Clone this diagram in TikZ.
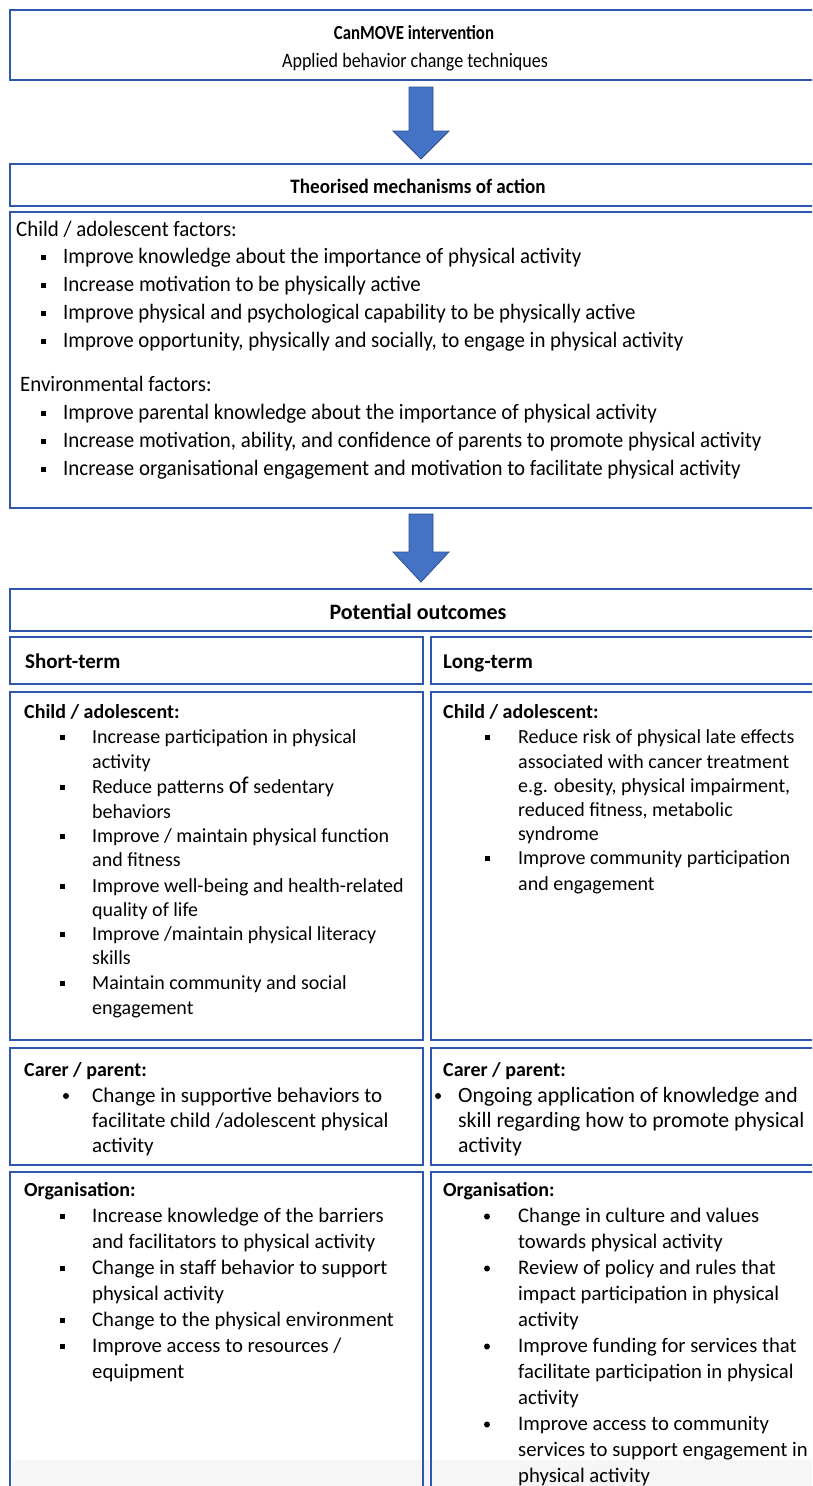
\documentclass[tikz,border=0pt]{standalone}
\usepackage{fontspec}
\setmainfont{Carlito}
\newfontfamily\mechfont[FakeStretch=0.95]{Carlito}
\newfontfamily\topfont[FakeStretch=0.84]{Carlito}
\newfontfamily\subfont[FakeStretch=0.88]{Carlito}
\newfontfamily\secfont[FakeStretch=0.93]{Carlito}
\usetikzlibrary{calc}
\definecolor{boxblue}{RGB}{47,87,178}
\definecolor{arrowblue}{RGB}{68,114,196}
\definecolor{arrowdark}{RGB}{47,82,143}
\definecolor{bandgray}{RGB}{246,246,246}
\tikzset{
  frame/.style={draw=boxblue, line width=2.2pt, inner sep=0pt, outer sep=0pt, anchor=north west},
  hd/.style={font=\secfont\fontsize{20.5}{24}\selectfont\bfseries, inner sep=0pt, anchor=base},
  tophd/.style={font=\topfont\fontsize{20}{24}\selectfont\bfseries, inner sep=0pt, anchor=base},
  sub/.style={font=\subfont\fontsize{20.5}{24}\selectfont, inner sep=0pt, anchor=base},
  lbl/.style={font=\fontsize{20}{24}\selectfont\bfseries, inner sep=0pt, anchor=base west},
  lblr/.style={font=\mechfont\fontsize{22}{24}\selectfont, inner sep=0pt, anchor=base west},
  txt/.style={font=\fontsize{20}{24}\selectfont, inner sep=0pt, anchor=base west},
  ctxt/.style={font=\fontsize{21}{24}\selectfont, inner sep=0pt, anchor=base west},
  otxt/.style={font=\fontsize{20.7}{24}\selectfont, inner sep=0pt, anchor=base west},
  mtxt/.style={font=\mechfont\fontsize{22}{24}\selectfont, inner sep=0pt, anchor=base west},
  sq/.style={fill=black, minimum size=5pt, inner sep=0pt, outer sep=0pt},
  rdot/.style={circle, fill=black, minimum size=6pt, inner sep=0pt, outer sep=0pt},
  barrow/.style={fill=arrowblue, draw=arrowdark, line width=0.8pt, line join=miter}
}
\begin{document}
\begin{tikzpicture}[x=1pt,y=-1pt]
\useasboundingbox (0,0) rectangle (812,1486);
\clip (0,0) rectangle (812,1486);
\fill[white] (0,0) rectangle (812,1486);
\fill[bandgray] (12,1460) rectangle (812,1486);

% boxes
\node[frame, minimum width=822pt, minimum height=70pt] (b1) at (10,10) {};
\node[frame, minimum width=822pt, minimum height=42pt] (b2) at (10,164) {};
\node[frame, minimum width=822pt, minimum height=296pt] (b3) at (10,212) {};
\node[frame, minimum width=822pt, minimum height=42pt] (b4) at (10,589) {};
\node[frame, minimum width=413pt, minimum height=47pt] (sl) at (10,637) {};
\node[frame, minimum width=401pt, minimum height=47pt] (sr) at (431,637) {};
\node[frame, minimum width=413pt, minimum height=348pt] (cl) at (10,692) {};
\node[frame, minimum width=401pt, minimum height=348pt] (cr) at (431,692) {};
\node[frame, minimum width=413pt, minimum height=117pt] (pl) at (10,1048) {};
\node[frame, minimum width=401pt, minimum height=117pt] (pr) at (431,1048) {};
\node[frame, minimum width=413pt, minimum height=340pt] (ol) at (10,1172) {};
\node[frame, minimum width=401pt, minimum height=340pt] (or) at (431,1172) {};

% arrows
\coordinate (a1t) at ($(b1.south)+(0,7)$);
\coordinate (a1b) at ($(b2.north)+(0,-5)$);
\draw[barrow] ($(a1t)+(-12,0)$) -- ($(a1t)+(12,0)$) -- ($(a1b)+(12,-28)$) -- ($(a1b)+(28,-28)$) -- (a1b) -- ($(a1b)+(-28,-28)$) -- ($(a1b)+(-12,-28)$) -- cycle;
\coordinate (a2t) at ($(b3.south)+(0,6)$);
\coordinate (a2b) at ($(b4.north)+(0,-7)$);
\draw[barrow] ($(a2t)+(-12,0)$) -- ($(a2t)+(12,0)$) -- ($(a2b)+(12,-30)$) -- ($(a2b)+(28,-30)$) -- (a2b) -- ($(a2b)+(-28,-30)$) -- ($(a2b)+(-12,-30)$) -- cycle;

% titles
\node[tophd] (t1) at (414,39) {CanMOVE intervention};
\node[sub] (t2) at (415,67) {Applied behavior change techniques};
\node[hd] (t3) at (418,193) {Theorised mechanisms of action};
\node[hd, font=\fontsize{22}{24}\selectfont\bfseries] (t4) at (418,619) {Potential outcomes};
\node[lbl, font=\fontsize{21}{24}\selectfont\bfseries] (t5) at (25,668) {Short-term};
\node[lbl, font=\fontsize{21}{24}\selectfont\bfseries] (t6) at (443,668) {Long-term};

% mechanisms
\node[lblr] (m0) at (16,236) {Child / adolescent factors:};
\node[sq] (mb1) at (43,257.5) {}; \node[mtxt] (m1) at (63,263) {Improve knowledge about the importance of physical activity};
\node[sq] (mb2) at (43,285.5) {}; \node[mtxt] (m2) at (63,291) {Increase motivation to be physically active};
\node[sq] (mb3) at (43,313.5) {}; \node[mtxt] (m3) at (63,319) {Improve physical and psychological capability to be physically active};
\node[sq] (mb4) at (43,341.5) {}; \node[mtxt] (m4) at (63,347) {Improve opportunity, physically and socially, to engage in physical activity};
\node[lblr] (e0) at (20,391) {Environmental factors:};
\node[sq] (eb1) at (43,413.5) {}; \node[mtxt] (e1) at (63,419) {Improve parental knowledge about the importance of physical activity};
\node[sq] (eb2) at (43,441.5) {}; \node[mtxt] (e2) at (63,447) {Increase motivation, ability, and confidence of parents to promote physical activity};
\node[sq] (eb3) at (43,469.5) {}; \node[mtxt] (e3) at (63,475) {Increase organisational engagement and motivation to facilitate physical activity};

% short-term child
\node[lbl] (c0) at (24,718) {Child / adolescent:};
\node[sq] (cb1) at (62,737.5) {}; \node[txt] (c1) at (92,743) {Increase participation in physical};
\node[txt] (c1b) at (92,768) {activity};
\node[sq] (cb2) at (62,787.5) {}; \node[txt] (c2) at (92,793) {Reduce patterns {\fontsize{24}{24}\selectfont of} sedentary};
\node[txt] (c2b) at (92,818) {behaviors};
\node[sq] (cb3) at (62,836.5) {}; \node[txt] (c3) at (92,842) {Improve / maintain physical function};
\node[txt] (c3b) at (92,866) {and fitness};
\node[sq] (cb4) at (62,886.5) {}; \node[txt] (c4) at (92,892) {Improve well-being and health-related};
\node[txt] (c4b) at (92,916) {quality of life};
\node[sq] (cb5) at (62,934.5) {}; \node[txt] (c5) at (92,940) {Improve /maintain physical literacy};
\node[txt] (c5b) at (92,964) {skills};
\node[sq] (cb6) at (62,983.5) {}; \node[txt] (c6) at (92,989) {Maintain community and social};
\node[txt] (c6b) at (92,1014) {engagement};

% long-term child
\node[lbl] (d0) at (443,718) {Child / adolescent:};
\node[sq] (db1) at (487,737.5) {}; \node[txt] (d1) at (518,743) {Reduce risk of physical late effects};
\node[txt] (d1b) at (518,768) {associated with cancer treatment};
\node[txt] (d1c) at (518,792) {e.g. obesity, physical impairment,};
\node[txt] (d1d) at (518,816) {reduced fitness, metabolic};
\node[txt] (d1e) at (518,840) {syndrome};
\node[sq] (db2) at (487,858.5) {}; \node[txt] (d2) at (518,864) {Improve community participation};
\node[txt] (d2b) at (518,890) {and engagement};

% carer
\node[lbl] (p0) at (24,1076) {Carer / parent:};
\node[rdot] (pb1) at (66,1096) {}; \node[ctxt] (p1) at (92,1102) {Change in supportive behaviors to};
\node[ctxt] (p1b) at (92,1127) {facilitate child /adolescent physical};
\node[ctxt] (p1c) at (92,1152) {activity};
\node[lbl] (q0) at (443,1076) {Carer / parent:};
\node[rdot] (qb1) at (438,1096) {}; \node[ctxt, font=\fontsize{21.8}{24}\selectfont] (q1) at (458,1102) {Ongoing application of knowledge and};
\node[ctxt, font=\fontsize{21.8}{24}\selectfont] (q1b) at (458,1127) {skill regarding how to promote physical};
\node[ctxt, font=\fontsize{21.8}{24}\selectfont] (q1c) at (458,1152) {activity};

% organisation short
\node[lbl] (o0) at (24,1196) {Organisation:};
\node[sq] (ob1) at (62,1216.5) {}; \node[otxt] (o1) at (92,1222) {Increase knowledge of the barriers};
\node[otxt] (o1b) at (92,1248) {and facilitators to physical activity};
\node[sq] (ob2) at (62,1268.5) {}; \node[otxt] (o2) at (92,1274) {Change in staff behavior to support};
\node[otxt] (o2b) at (92,1300) {physical activity};
\node[sq] (ob3) at (62,1320.5) {}; \node[otxt] (o3) at (92,1326) {Change to the physical environment};
\node[sq] (ob4) at (62,1346.5) {}; \node[otxt] (o4) at (92,1352) {Improve access to resources /};
\node[otxt] (o4b) at (92,1378) {equipment};

% organisation long
\node[lbl] (r0) at (443,1196) {Organisation:};
\node[rdot] (rb1) at (487,1216.5) {}; \node[otxt] (r1) at (518,1222) {Change in culture and values};
\node[otxt] (r1b) at (518,1248) {towards physical activity};
\node[rdot] (rb2) at (487,1268.5) {}; \node[otxt] (r2) at (518,1274) {Review of policy and rules that};
\node[otxt] (r2b) at (518,1300) {impact participation in physical};
\node[otxt] (r2c) at (518,1326) {activity};
\node[rdot] (rb3) at (487,1346.5) {}; \node[otxt] (r3) at (518,1352) {Improve funding for services that};
\node[otxt] (r3b) at (518,1378) {facilitate participation in physical};
\node[otxt] (r3c) at (518,1404) {activity};
\node[rdot] (rb4) at (487,1424.5) {}; \node[otxt] (r4) at (518,1430) {Improve access to community};
\node[otxt] (r4b) at (518,1456) {services to support engagement in};
\node[otxt] (r4c) at (518,1482) {physical activity};
\end{tikzpicture}
\end{document}
